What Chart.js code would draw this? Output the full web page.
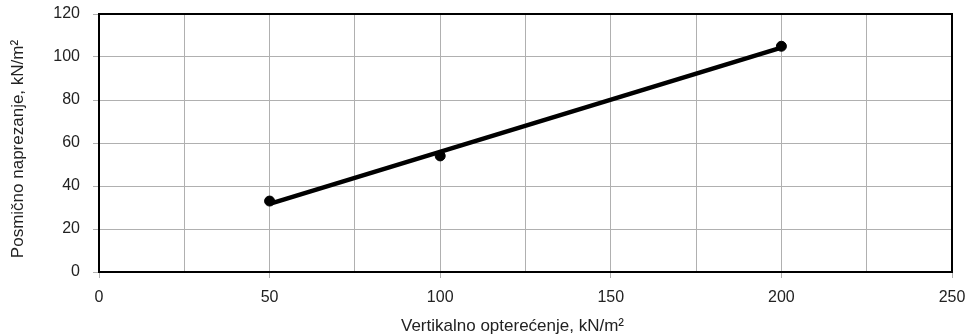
<!DOCTYPE html>
<html>
<head>
<meta charset="utf-8">
<script src="https://cdn.jsdelivr.net/npm/chart.js@4.4.1/dist/chart.umd.min.js"></script>
<style>
html,body{margin:0;padding:0;background:#fff;}
#wrap{width:969px;height:334px;position:relative;}
</style>
</head>
<body>
<div id="wrap"><canvas id="c"></canvas></div>
<script>
// Measured points
const loadX = [50, 100, 200];
const shearY = [33, 54, 105];
// Trend line end points
const trendX = [50, 200];
const trendY = [31.7, 104.4];
// Axis ticks
const xTicks = [0, 50, 100, 150, 200, 250];
const yTicks = [0, 20, 40, 60, 80, 100, 120];
const xTitle = 'Vertikalno opterećenje, kN/m²';
const yTitle = 'Posmično naprezanje, kN/m²';

const font = {family: '"Liberation Sans", Arial, sans-serif', size: 16};
const tfont = {family: '"Liberation Sans", Arial, sans-serif', size: 17};

const frame = {
  id: 'frame',
  afterDatasetsDraw(chart) {
    const {ctx, chartArea: a} = chart;
    ctx.save();
    ctx.strokeStyle = '#000';
    ctx.lineWidth = 2;
    ctx.strokeRect(a.left, a.top, a.right - a.left, a.bottom - a.top);
    ctx.restore();
  },
  afterDraw(chart) {
    const {ctx, chartArea: a} = chart;
    ctx.save();
    ctx.fillStyle = '#222';
    ctx.font = tfont.size + 'px ' + tfont.family;
    ctx.textAlign = 'center';
    ctx.textBaseline = 'alphabetic';
    ctx.fillText(xTitle, (a.left + a.right) / 2 - 13, chart.height - 3);
    ctx.translate(23, (a.top + a.bottom) / 2 + 6);
    ctx.rotate(-Math.PI / 2);
    ctx.fillText(yTitle, 0, 0);
    ctx.restore();
  }
};

new Chart(document.getElementById('c'), {
  type: 'scatter',
  data: {
    datasets: [
      {
        data: trendX.map((x, i) => ({x, y: trendY[i]})),
        showLine: true, borderColor: '#000', borderWidth: 4.5,
        pointRadius: 0, order: 2
      },
      {
        data: loadX.map((x, i) => ({x, y: shearY[i]})),
        backgroundColor: '#000', borderColor: '#000',
        pointRadius: 5, order: 1
      }
    ]
  },
  options: {
    responsive: true, maintainAspectRatio: false, animation: false,
    layout: {padding: {top: 14, right: 17, left: 0, bottom: 0}},
    plugins: {legend: {display: false}, tooltip: {enabled: false}},
    scales: {
      x: {
        type: 'linear', min: 0, max: 250,
        afterBuildTicks: s => { s.ticks = [0,25,50,75,100,125,150,175,200,225,250].map(v => ({value: v})); },
        afterFit: s => { s.height = 62; s.paddingLeft = 0; s.paddingRight = 0; },
        grid: {
          color: '#b0b0b0', lineWidth: 1, tickLength: 6,
          tickColor: c => (xTicks.includes(c.tick.value) ? '#b0b0b0' : 'rgba(0,0,0,0)')
        },
        border: {color: '#000', width: 2},
        ticks: {
          color: '#222', font, padding: 10, maxRotation: 0,
          callback: v => (xTicks.includes(v) ? String(v) : '')
        },
        title: {display: false}
      },
      y: {
        type: 'linear', min: 0, max: 120,
        afterBuildTicks: s => { s.ticks = yTicks.map(v => ({value: v})); },
        afterFit: s => { s.width = 99; s.paddingTop = 0; s.paddingBottom = 0; },
        grid: {color: '#b0b0b0', lineWidth: 1, tickLength: 6, tickColor: '#b0b0b0'},
        border: {color: '#000', width: 2},
        ticks: {color: '#222', font, padding: 13},
        title: {display: false}
      }
    }
  },
  plugins: [frame]
});
</script>
</body>
</html>
